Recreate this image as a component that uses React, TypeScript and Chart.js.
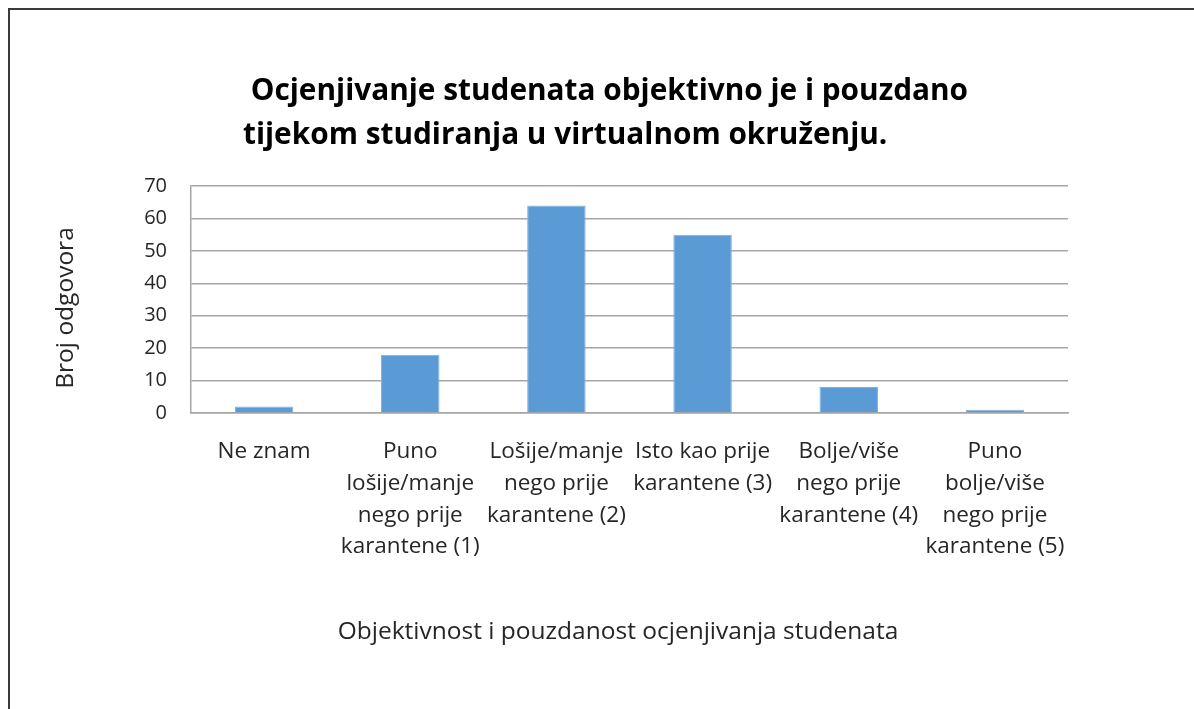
import React, { useEffect, useRef } from "react";
import { Chart, registerables } from "chart.js";

Chart.register(...registerables);

const TITLE_LINES = [
  " Ocjenjivanje studenata objektivno je i pouzdano",
  "tijekom studiranja u virtualnom okruženju.",
];
const CATEGORIES: string[][] = [
  ["Ne znam"],
  ["Puno", "lošije/manje", "nego prije", "karantene (1)"],
  ["Lošije/manje", "nego prije", "karantene (2)"],
  ["Isto kao prije", "karantene (3)"],
  ["Bolje/više", "nego prije", "karantene (4)"],
  ["Puno", "bolje/više", "nego prije", "karantene (5)"],
];
const VALUES = [2, 18, 64, 55, 8, 1];
const Y_TICKS = [0, 10, 20, 30, 40, 50, 60, 70];
const X_TITLE = "Objektivnost i pouzdanost ocjenjivanja studenata";
const Y_TITLE = "Broj odgovora";

const FONT = "'Open Sans', sans-serif";

const textPlugin = {
  id: "textBlocks",
  afterDraw(chart: any) {
    const ctx = chart.ctx;
    ctx.save();
    ctx.fillStyle = "#000000";
    ctx.font = `bold 29.8px ${FONT}`;
    ctx.textAlign = "left";
    ctx.textBaseline = "alphabetic";
    ctx.fillText(TITLE_LINES[0], 243, 100);
    ctx.fillText(TITLE_LINES[1], 243, 144);

    ctx.fillStyle = "#262626";
    ctx.font = `24.5px ${FONT}`;
    ctx.textAlign = "center";
    ctx.textBaseline = "middle";
    ctx.fillText(X_TITLE, 618, 632);

    ctx.translate(66, 308);
    ctx.rotate(-Math.PI / 2);
    ctx.fillText(Y_TITLE, 0, 0);
    ctx.restore();
  },
};

export default function App() {
  const ref = useRef<HTMLCanvasElement | null>(null);
  useEffect(() => {
    if (!ref.current) return;
    const chart = new Chart(ref.current, {
      type: "bar",
      data: {
        labels: CATEGORIES,
        datasets: [
          {
            data: VALUES,
            backgroundColor: "#5b9bd5",
            borderColor: "#7fb0de",
            borderWidth: 1,
            categoryPercentage: 1,
            barPercentage: 0.4,
          },
        ],
      },
      plugins: [textPlugin],
      options: {
        responsive: false,
        animation: false,
        devicePixelRatio: 1,
        layout: { padding: { left: 0, top: 186, right: 126, bottom: 0 } },
        plugins: {
          legend: { display: false },
          title: { display: false },
          tooltip: { enabled: false },
        },
        scales: {
          x: {
            afterFit: (s: any) => {
              s.height = 296;
            },
            grid: { display: false, drawTicks: false },
            border: { display: true, color: "#a6a6a6", width: 1.5 },
            ticks: {
              padding: 23,
              color: "#262626",
              maxRotation: 0,
              autoSkip: false,
              font: { family: FONT, size: 22.5, lineHeight: "31.7px" },
            },
            title: { display: false, text: X_TITLE },
          },
          y: {
            min: 0,
            max: 70,
            afterFit: (s: any) => {
              s.width = 191;
            },
            afterBuildTicks: (s: any) => {
              s.ticks = Y_TICKS.map((v) => ({ value: v }));
            },
            grid: { color: "#a6a6a6", lineWidth: 1.5, drawTicks: false },
            border: { display: true, color: "#a6a6a6", width: 1.5 },
            ticks: {
              padding: 24,
              color: "#262626",
              font: { family: FONT, size: 20 },
            },
            title: { display: false, text: Y_TITLE },
          },
        },
      },
    });
    return () => chart.destroy();
  }, []);

  return (
    <div
      style={{
        position: "fixed",
        left: 0,
        top: 0,
        width: 1194,
        height: 709,
        overflow: "hidden",
        background: "#ffffff",
      }}
    >
      <div
        style={{
          position: "absolute",
          left: 8,
          top: 8,
          width: 1400,
          height: 1000,
          border: "2px solid #3a3a3a",
          boxSizing: "border-box",
        }}
      />
      <canvas
        ref={ref}
        width={1194}
        height={709}
        style={{ position: "absolute", left: 0, top: 0, width: 1194, height: 709 }}
      />
    </div>
  );
}
